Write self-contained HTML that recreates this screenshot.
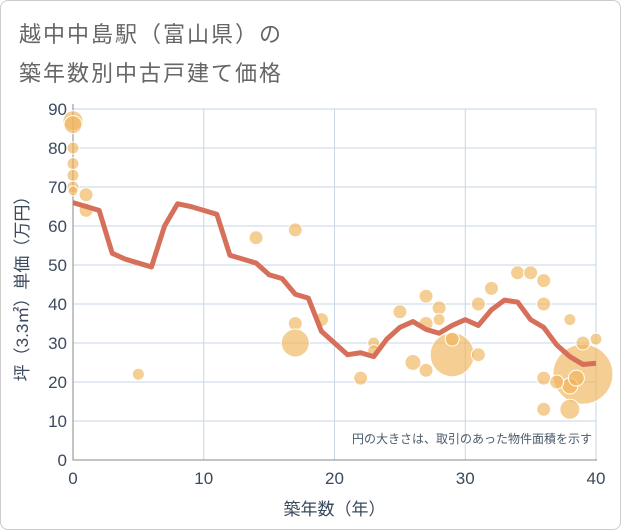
<!DOCTYPE html>
<html><head><meta charset="utf-8"><style>
body{margin:0;background:#fff;font-family:"Liberation Sans","Noto Sans CJK JP",sans-serif;}
#wrap{position:relative;width:619px;height:528px;border:1px solid #ccc;border-radius:8px;overflow:hidden;}
.title{position:absolute;left:18px;font-size:22px;color:#666;letter-spacing:2px;}
</style></head><body>
<div id="wrap">
<div class="title" style="top:16px">越中中島駅（富山県）の</div>
<div class="title" style="top:55px">築年数別中古戸建て価格</div>
<svg id="chart" width="621" height="530" style="position:absolute;left:-1px;top:-1px"></svg>
</div>
<script>
const xTicks=[0,10,20,30,40];
const yTicks=[0,10,20,30,40,50,60,70,80,90];
const lineYears=[0,1,2,3,4,5,6,7,8,9,10,11,12,13,14,15,16,17,18,19,20,21,22,23,24,25,26,27,28,29,30,31,32,33,34,35,36,37,38,39,40];
const lineValues=[66,65,64,53,51.5,50.5,49.5,60,65.7,65,64,63,52.5,51.5,50.5,47.5,46.5,42.5,41.5,33,30,27,27.5,26.5,31,34,35.5,33.5,32.5,34.5,36,34.5,38.5,41,40.5,36,34,29.5,26.5,24.5,24.8];
const bubbleYears=[0,0,0,0,0,0,0,1,1,5,14,17,17,17,19,22,23,23,25,26,27,27,27,28,28,29,29,31,31,32,34,35,36,36,36,36,38,39,38,38,39,40,37,38.5];
const bubbleValues=[87,86,80,76,73,70,69,68,64,22,57,59,35,30,36,21,30,28,38,25,42,35,23,39,36,27,31,40,27,44,48,48,46,40,21,13,36,22,19,13,30,31,20,21];
const bubbleSizes=[10,9,6,6,6,6,5,7,7,6,7,7,7,14,7,7,6,6,7,8,7,7,7,7,6,22,7,7,7,7,7,7,7,7,7,7,6,30,8,10,7,6,7,8];
const X0=73,X1=596,Y0=460,Y1=109;
const sx=v=>X0+(v-0)/40*(X1-X0);
const sy=v=>Y0-(v-0)/90*(Y0-Y1);
const svg=document.getElementById('chart');
const NS='http://www.w3.org/2000/svg';
function mk(t,a){const e=document.createElementNS(NS,t);for(const k in a)e.setAttribute(k,a[k]);svg.appendChild(e);return e;}
yTicks.forEach(t=>{
 const l=mk('line',{x1:X0,x2:X1,y1:sy(t),y2:sy(t),stroke:'#c8d6e5','stroke-width':1});
 
 
 const tx=mk('text',{x:X0-6,y:sy(t)+6,'text-anchor':'end','font-size':17,fill:'#3a4a5e'});
 tx.textContent=t;
 
 
});
xTicks.forEach(t=>{
 const l=mk('line',{x1:sx(t),x2:sx(t),y1:Y1,y2:Y0,stroke:'#c8d6e5','stroke-width':1});
 
 
 const tx=mk('text',{x:sx(t),y:Y0+24,'text-anchor':'middle','font-size':17,fill:'#3a4a5e'});
 tx.textContent=t;
 
 
});
const ax=mk('path',{d:`M${X0} ${Y1-5}V${Y0}H${X1+1}`,stroke:'#888',fill:'none','stroke-width':1});


const g=mk('g',{});


bubbleYears.forEach((yr,i)=>{
 const c=document.createElementNS(NS,'circle');
 c.setAttribute('cx',sx(yr));c.setAttribute('cy',sy(bubbleValues[i]));c.setAttribute('r',bubbleSizes[i]);
 c.setAttribute('fill','rgba(240,180,90,0.65)');c.setAttribute('stroke','#fff');c.setAttribute('stroke-width','1');
 
 
 g.appendChild(c);
});
const pl=mk('polyline',{points:lineYears.map((y,i)=>sx(y)+','+sy(lineValues[i])).join(' '),fill:'none',stroke:'#d6705a','stroke-width':5,'stroke-linejoin':'round'});


const note=mk('text',{x:592,y:443,'text-anchor':'end','font-size':12,fill:'#4a5a6a'});
note.textContent='円の大きさは、取引のあった物件面積を示す';


const xt=mk('text',{x:sx(20),y:515,'text-anchor':'middle','font-size':17,fill:'#3a4a5e'});
xt.textContent='築年数（年）';


const yt=mk('text',{x:28,y:sy(45),'text-anchor':'middle','font-size':17,fill:'#3a4a5e',transform:`rotate(-90 28 ${sy(45)})`});
yt.textContent='坪（3.3㎡）単価（万円）';


</script>
</body></html>
